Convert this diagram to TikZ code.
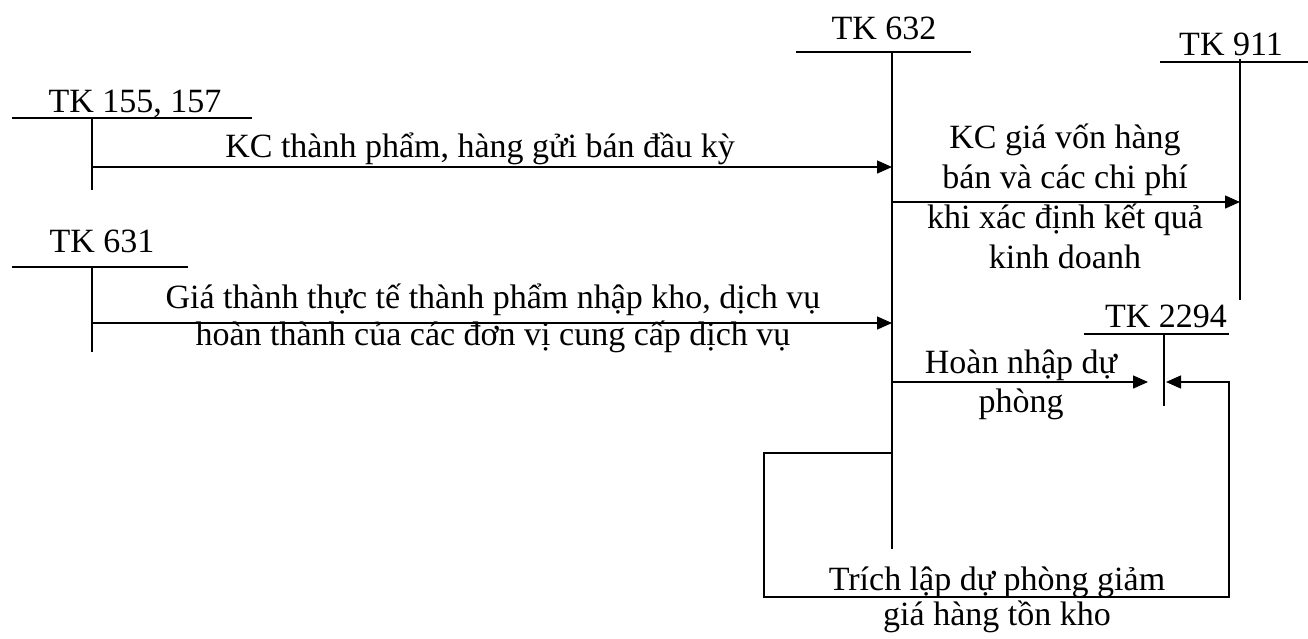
\documentclass[tikz,border=0pt]{standalone}
\usepackage{fontspec}
\setmainfont{Liberation Serif}
\usetikzlibrary{arrows.meta}
\newcommand{\mlines}[1]{\begin{tabular}[t]{@{}c@{}}#1\end{tabular}}
\begin{document}
\begin{tikzpicture}[x=1pt,y=-1pt,line width=1.4pt,
  every node/.style={font=\fontsize{34}{40}\selectfont, inner sep=0pt},
  lbl/.style={anchor=base},
  arr/.style={-{Triangle[length=15pt,width=13pt]}}]
\useasboundingbox (0,0) rectangle (1308,638);

% TK 155, 157
\node[lbl] (t155) at (135,112) {TK 155, 157};
\coordinate (h155a) at (12,118); \coordinate (h155b) at (252,118);
\coordinate (v155a) at (92,118); \coordinate (v155b) at (92,190);
\draw (h155a) -- (h155b);
\draw (v155a) -- (v155b);

% TK 631
\node[lbl] (t631) at (102,252) {TK 631};
\coordinate (h631a) at (12,267); \coordinate (h631b) at (188,267);
\coordinate (v631a) at (92,267); \coordinate (v631b) at (92,352);
\draw (h631a) -- (h631b);
\draw (v631a) -- (v631b);

% TK 632
\node[lbl] (t632) at (884,39) {TK 632};
\coordinate (h632a) at (796,52); \coordinate (h632b) at (971,52);
\coordinate (v632a) at (892,52); \coordinate (v632b) at (892,549);
\draw (h632a) -- (h632b);
\draw (v632a) -- (v632b);

% TK 911
\node[lbl] (t911) at (1231,55) {TK 911};
\coordinate (h911a) at (1160,62); \coordinate (h911b) at (1308,62);
\coordinate (v911a) at (1240,59); \coordinate (v911b) at (1240,300);
\draw (h911a) -- (h911b);
\draw (v911a) -- (v911b);

% TK 2294
\node[lbl] (t2294) at (1166,327) {TK 2294};
\coordinate (h2294a) at (1084,334); \coordinate (h2294b) at (1229,334);
\coordinate (v2294a) at (1164,334); \coordinate (v2294b) at (1164,406);
\draw (h2294a) -- (h2294b);
\draw (v2294a) -- (v2294b);

% connectors
\coordinate (s1) at (92,167);  \coordinate (e1) at (892,167);
\draw[arr] (s1) -- (e1);
\node[lbl] (l1) at (480,157) {KC thành phẩm, hàng gửi bán đầu kỳ};

\coordinate (s2) at (92,323);  \coordinate (e2) at (892,323);
\draw[arr] (s2) -- (e2);
\node[lbl,font=\fontsize{34}{37}\selectfont] (l2) at (493,308)
  {\mlines{Giá thành thực tế thành phẩm nhập kho, dịch vụ\\hoàn thành của các đơn vị cung cấp dịch vụ}};

\coordinate (s3) at (892,202); \coordinate (e3) at (1240,202);
\draw[arr] (s3) -- (e3);
\node[lbl,font=\fontsize{34}{40}\selectfont] (l3) at (1065,148)
  {\mlines{KC giá vốn hàng\\bán và các chi phí\\khi xác định kết quả\\kinh doanh}};

\coordinate (s4) at (892,382); \coordinate (e4) at (1148,382);
\draw[arr] (s4) -- (e4);
\node[lbl,font=\fontsize{34}{39}\selectfont] (l4) at (1021,373)
  {\mlines{Hoàn nhập dự\\phòng}};

\coordinate (s5) at (892,453); \coordinate (c5a) at (764,453);
\coordinate (c5b) at (764,597); \coordinate (c5c) at (1229,597);
\coordinate (c5d) at (1229,382); \coordinate (e5) at (1166,382);
\draw[arr] (s5) -- (c5a) -- (c5b) -- (c5c) -- (c5d) -- (e5);
\node[lbl,font=\fontsize{34}{35}\selectfont] (l5) at (997,590)
  {\mlines{Trích lập dự phòng giảm\\giá hàng tồn kho}};
\end{tikzpicture}
\end{document}
